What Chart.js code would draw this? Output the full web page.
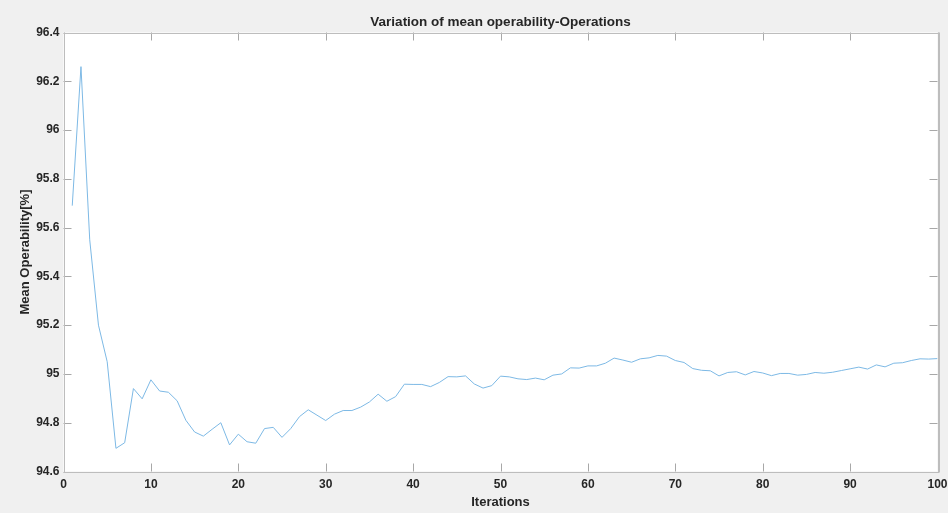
<!DOCTYPE html>
<html>
<head>
<meta charset="utf-8">
<title>Variation of mean operability-Operations</title>
<script src="https://cdn.jsdelivr.net/npm/chart.js@4.4.1/dist/chart.umd.min.js"></script>
<style>
  html, body { margin: 0; padding: 0; background: #f0f0f0; }
  #wrap { width: 948px; height: 513px; }
</style>
</head>
<body>
<div id="wrap"><canvas id="chart-operability" width="948" height="513"></canvas></div>
<script>
// mean operability per iteration (iterations 1..100)
var operability = [
  95.69, 96.26, 95.55, 95.20, 95.05, 94.695, 94.718, 94.94, 94.898, 94.976,
  94.93, 94.925, 94.89, 94.81, 94.762, 94.745, 94.773, 94.80, 94.709, 94.753,
  94.722, 94.716, 94.776, 94.781, 94.74, 94.776, 94.825, 94.853, 94.831, 94.809,
  94.835, 94.85, 94.85, 94.864, 94.885, 94.917, 94.888, 94.907, 94.958, 94.957,
  94.957, 94.948, 94.965, 94.989, 94.988, 94.992, 94.959, 94.942, 94.952, 94.991,
  94.988, 94.98, 94.977, 94.983, 94.976, 94.995, 95.0, 95.025, 95.024, 95.033,
  95.033, 95.044, 95.065, 95.057, 95.048, 95.062, 95.066, 95.076, 95.073, 95.055,
  95.047, 95.022, 95.015, 95.013, 94.992, 95.006, 95.009, 94.996, 95.01, 95.004,
  94.993, 95.002, 95.002, 94.995, 94.998, 95.006, 95.003, 95.007, 95.014, 95.021,
  95.028, 95.02, 95.037, 95.029, 95.044, 95.046, 95.055, 95.062, 95.061, 95.063
];
var iterations = [];
for (var i = 0; i < operability.length; i++) iterations.push(i + 1);

var xTickValues = [0, 10, 20, 30, 40, 50, 60, 70, 80, 90, 100];
var yTickValues = [94.6, 94.8, 95, 95.2, 95.4, 95.6, 95.8, 96, 96.2, 96.4];

var chartTitle = 'Variation of mean operability-Operations';
var xTitle = 'Iterations';
var yTitle = 'Mean Operability[%]';

var FONT = '"Liberation Sans", Arial, Helvetica, sans-serif';
var TEXT = '#262626';

var points = iterations.map(function(it, k) { return { x: it, y: operability[k] }; });

// figure background, white axes, box with inward ticks, titles
var axesBox = {
  id: 'axesBox',
  beforeDraw: function(chart) {
    var c = chart.ctx, a = chart.chartArea;
    c.save();
    c.fillStyle = '#f0f0f0';
    c.fillRect(0, 0, chart.width, chart.height);
    c.fillStyle = '#ffffff';
    c.fillRect(a.left, a.top, a.right - a.left, a.bottom - a.top);
    c.restore();
  },
  afterDraw: function(chart) {
    var c = chart.ctx, a = chart.chartArea;
    var sx = chart.scales.x, sy = chart.scales.y;
    var tl = 8;
    c.save();
    c.strokeStyle = '#a8a8a8';
    c.lineWidth = 1;
    c.beginPath();
    sx.ticks.forEach(function(t) {
      var px = Math.round(sx.getPixelForValue(t.value)) + 0.5;
      c.moveTo(px, a.bottom); c.lineTo(px, a.bottom - tl);
      c.moveTo(px, a.top); c.lineTo(px, a.top + tl);
    });
    sy.ticks.forEach(function(t) {
      var py = Math.round(sy.getPixelForValue(t.value)) + 0.5;
      c.moveTo(a.left, py); c.lineTo(a.left + tl, py);
      c.moveTo(a.right, py); c.lineTo(a.right - tl, py);
    });
    c.stroke();
    c.strokeStyle = '#bdbdbd';
    c.strokeRect(Math.round(a.left) + 0.5, Math.round(a.top) + 0.5,
      Math.round(a.right - a.left), Math.round(a.bottom - a.top));
    c.beginPath();
    c.moveTo(Math.round(a.right) + 1.5, a.top);
    c.lineTo(Math.round(a.right) + 1.5, a.bottom + 1);
    c.stroke();

    c.fillStyle = TEXT;
    c.textAlign = 'center';
    c.textBaseline = 'middle';
    c.font = 'bold 13.5px ' + FONT;
    c.fillText(chartTitle, (a.left + a.right) / 2, 22);
    c.font = 'bold 13px ' + FONT;
    c.fillText(xTitle, (a.left + a.right) / 2, 502);
    c.translate(25, (a.top + a.bottom) / 2);
    c.rotate(-Math.PI / 2);
    c.fillText(yTitle, 0, 0);
    c.restore();
  }
};

function fixedTicks(values) {
  return function(scale) {
    scale.ticks = values.map(function(v) { return { value: v }; });
  };
}

new Chart(document.getElementById('chart-operability').getContext('2d'), {
  type: 'line',
  data: {
    datasets: [{
      data: points,
      borderColor: '#7db9e5',
      borderWidth: 1,
      pointRadius: 0,
      tension: 0,
      fill: false
    }]
  },
  options: {
    responsive: false,
    animation: false,
    events: [],
    layout: { padding: { top: 32.5, right: 10.5, left: 0, bottom: 0 } },
    plugins: { legend: { display: false }, tooltip: { enabled: false }, title: { display: false } },
    scales: {
      x: {
        type: 'linear', min: 0, max: 100,
        afterBuildTicks: fixedTicks(xTickValues),
        afterFit: function(s) { s.height = 41.5; s.paddingLeft = 0; s.paddingRight = 0; },
        grid: { display: false, drawTicks: false },
        border: { display: false },
        ticks: {
          padding: 6, color: TEXT, maxRotation: 0, autoSkip: false,
          font: { family: FONT, size: 12, weight: 'bold' },
          callback: function(v) { return String(v); }
        }
      },
      y: {
        type: 'linear', min: 94.6, max: 96.4,
        afterBuildTicks: fixedTicks(yTickValues),
        afterFit: function(s) { s.width = 63.5; s.paddingTop = 0; s.paddingBottom = 0; },
        grid: { display: false, drawTicks: false },
        border: { display: false },
        ticks: {
          padding: 4, color: TEXT, autoSkip: false,
          font: { family: FONT, size: 12, weight: 'bold' },
          callback: function(v) { return String(Math.round(v * 10) / 10); }
        }
      }
    }
  },
  plugins: [axesBox]
});
</script>
</body>
</html>
